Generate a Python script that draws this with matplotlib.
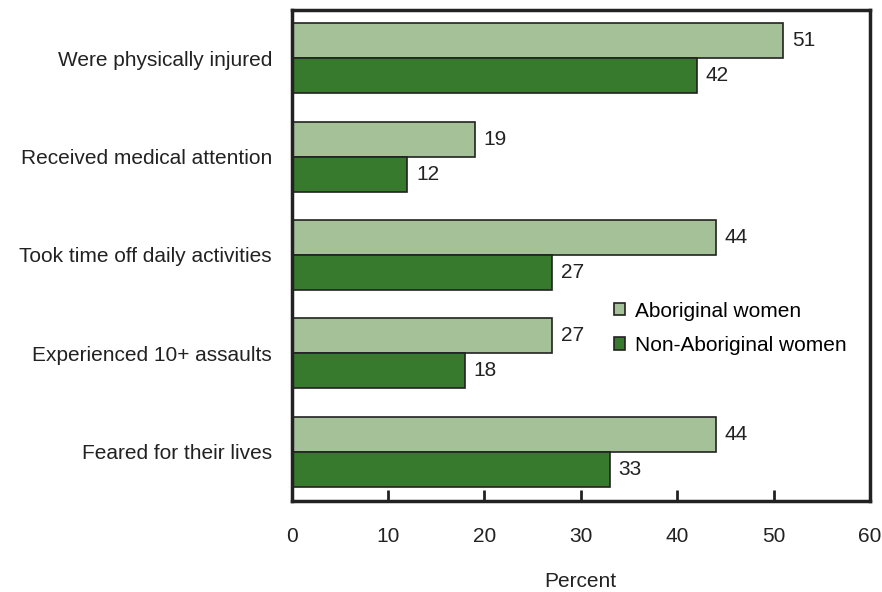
import numpy as np
import matplotlib.pyplot as plt

plt.rcParams['font.family'] = ['Liberation Sans', 'DejaVu Sans']

categories = ['Were physically injured', 'Received medical attention',
              'Took time off daily activities', 'Experienced 10+ assaults',
              'Feared for their lives']
aboriginal = [51, 19, 44, 27, 44]
non_aboriginal = [42, 12, 27, 18, 33]
series_names = ['Aboriginal women', 'Non-Aboriginal women']
xticks = [0, 10, 20, 30, 40, 50, 60]

light = '#a5c198'
dark = '#377a2d'
ink = '#222222'
fs = 15

fig = plt.figure(figsize=(8.82, 5.92), dpi=100)
ax = fig.add_axes([0.3305, 0.1542, 0.656, 0.8288])

y = np.arange(len(categories))
h = 0.356
b1 = ax.barh(y - h / 2, aboriginal, height=h, color=light, edgecolor=ink, linewidth=1.2, label=series_names[0])
b2 = ax.barh(y + h / 2, non_aboriginal, height=h, color=dark, edgecolor=ink, linewidth=1.2, label=series_names[1])

# value labels next to bars
for bars, vals in ((b1, aboriginal), (b2, non_aboriginal)):
    for bar, v in zip(bars, vals):
        ax.text(v + 0.9, bar.get_y() + bar.get_height() / 2, str(v),
                va='center', ha='left', fontsize=fs, color=ink)

ax.set_xlim(0, 60)
ax.set_ylim(4.5, -0.49)
ax.set_yticks(y)
ax.set_yticklabels(categories, fontsize=fs, color=ink)
ax.set_xticks(xticks)
ax.set_xticklabels([str(t) for t in xticks], fontsize=fs, color=ink)
ax.tick_params(axis='y', length=0, pad=14)
ax.tick_params(axis='x', direction='in', length=8, width=2, pad=19, color=ink)
ax.set_xlabel('Percent', fontsize=fs, color=ink, labelpad=19)
for s in ax.spines.values():
    s.set_linewidth(2.5)
    s.set_color(ink)

ax.legend(loc='upper left', bbox_to_anchor=(0.543, 0.423), frameon=False,
          fontsize=fs, handlelength=0.55, handleheight=0.55,
          handletextpad=0.45, labelspacing=0.75, borderaxespad=0)

fig.savefig('out.png', dpi=100)
